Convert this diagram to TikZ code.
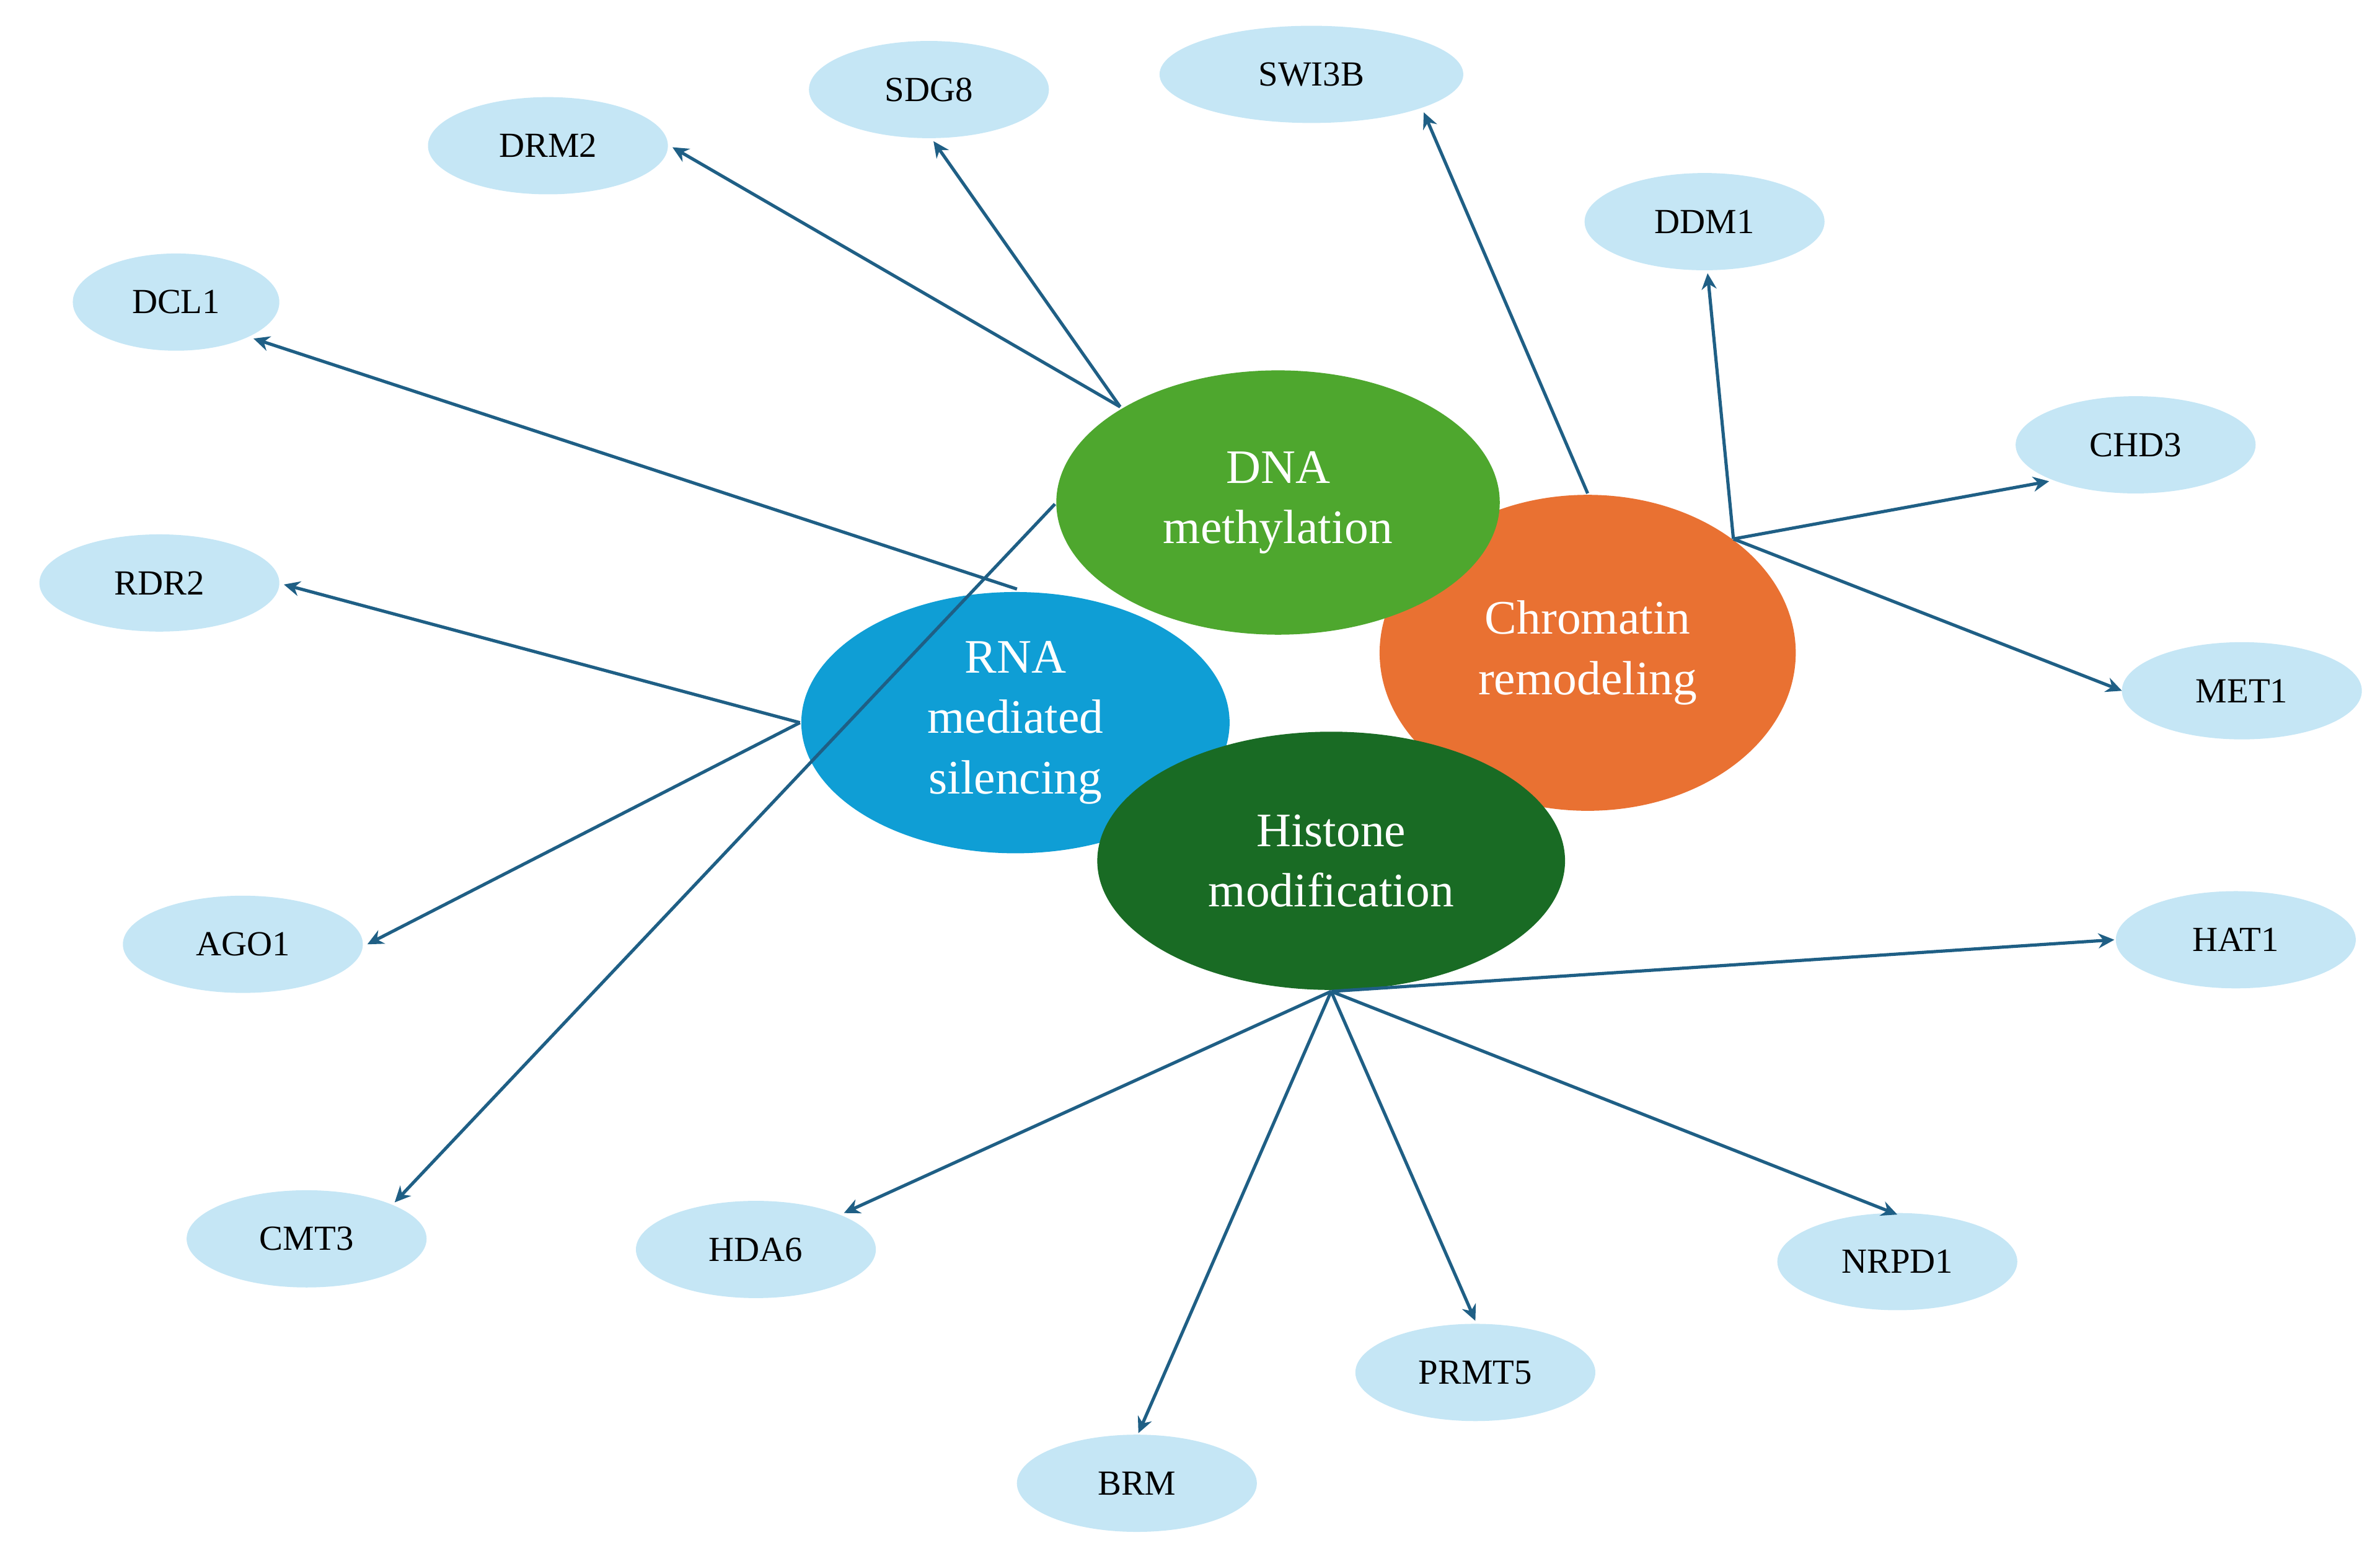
\documentclass[tikz,border=0pt]{standalone}
\usepackage{fontspec}
\setmainfont{Liberation Serif}
\usetikzlibrary{shapes.geometric,arrows.meta}
\definecolor{sm}{HTML}{C5E6F5}
\definecolor{ln}{HTML}{1F5F85}
\definecolor{dna}{HTML}{4EA72E}
\definecolor{chr}{HTML}{E97132}
\definecolor{rna}{HTML}{0F9ED5}
\definecolor{his}{HTML}{196B24}
\begin{document}
\begin{tikzpicture}[x=0.01cm,y=-0.01cm,
 small/.style={ellipse,fill=sm,minimum width=15.8mm,minimum height=6.4mm,inner sep=0pt,font=\fontsize{6.6pt}{8pt}\selectfont},
 big/.style={ellipse,text=white,inner sep=0pt,align=center,font=\fontsize{9pt}{11.3pt}\selectfont},
 arr/.style={draw=ln,line width=0.6pt,-{Stealth[length=3pt,width=2.8pt]}}]
\useasboundingbox (0,0) rectangle (1568,1028);
\node[small] (DRM2) at (361,96) {DRM2};
\node[small] (SDG8) at (612,59) {SDG8};
\node[small,minimum width=20mm] (SWI3B) at (864,49) {SWI3B};
\node[small] (DDM1) at (1123,146) {DDM1};
\node[small,minimum width=13.6mm] (DCL1) at (116,199) {DCL1};
\node[small] (CHD3) at (1407,293) {CHD3};
\node[small] (RDR2) at (105,384) {RDR2};
\node[small] (MET1) at (1477,455) {MET1};
\node[small] (AGO1) at (160,622) {AGO1};
\node[small] (HAT1) at (1473,619) {HAT1};
\node[small] (CMT3) at (202,816) {CMT3};
\node[small] (HDA6) at (498,823) {HDA6};
\node[small] (NRPD1) at (1250,831) {NRPD1};
\node[small] (PRMT5) at (972,904) {PRMT5};
\node[small] (BRM) at (749,977) {BRM};
\node[big,fill=chr,minimum width=27.4mm,minimum height=20.8mm] (CR) at (1046,430) {Chromatin\\remodeling};
\node[big,fill=rna,minimum width=28.2mm,minimum height=17.2mm] (RNA) at (669,476) {RNA\\mediated\\silencing};
\node[big,fill=dna,minimum width=29.2mm,minimum height=17.4mm] (DNA) at (842,331) {DNA\\methylation};
\node[big,fill=his,minimum width=30.8mm,minimum height=17mm] (HM) at (877,567) {Histone\\modification};
\coordinate (d1) at (738,268); \coordinate (d2) at (695,332);
\coordinate (c1) at (1046,325); \coordinate (c2) at (1142,355);
\coordinate (r1) at (670,388); \coordinate (r2) at (527,476);
\coordinate (h1) at (877,653);
\coordinate (tDRM2) at (443,97); \coordinate (tSDG8) at (615,93); \coordinate (tCMT3) at (260,792);
\coordinate (tSWI3B) at (938,74); \coordinate (tDDM1) at (1125,180); \coordinate (tCHD3) at (1350,317); \coordinate (tMET1) at (1398,455);
\coordinate (tDCL1) at (167,223); \coordinate (tRDR2) at (187,385); \coordinate (tAGO1) at (242,622);
\coordinate (tHAT1) at (1393,619); \coordinate (tNRPD1) at (1250,800); \coordinate (tPRMT5) at (972,870); \coordinate (tBRM) at (750,944); \coordinate (tHDA6) at (556,799);
\draw[arr] (d1) -- (tDRM2);
\draw[arr] (d1) -- (tSDG8);
\draw[arr] (d2) -- (tCMT3);
\draw[arr] (c1) -- (tSWI3B);
\draw[arr] (c2) -- (tDDM1);
\draw[arr] (c2) -- (tCHD3);
\draw[arr] (c2) -- (tMET1);
\draw[arr] (r1) -- (tDCL1);
\draw[arr] (r2) -- (tRDR2);
\draw[arr] (r2) -- (tAGO1);
\draw[arr] (h1) -- (tHAT1);
\draw[arr] (h1) -- (tNRPD1);
\draw[arr] (h1) -- (tPRMT5);
\draw[arr] (h1) -- (tBRM);
\draw[arr] (h1) -- (tHDA6);
\end{tikzpicture}
\end{document}
